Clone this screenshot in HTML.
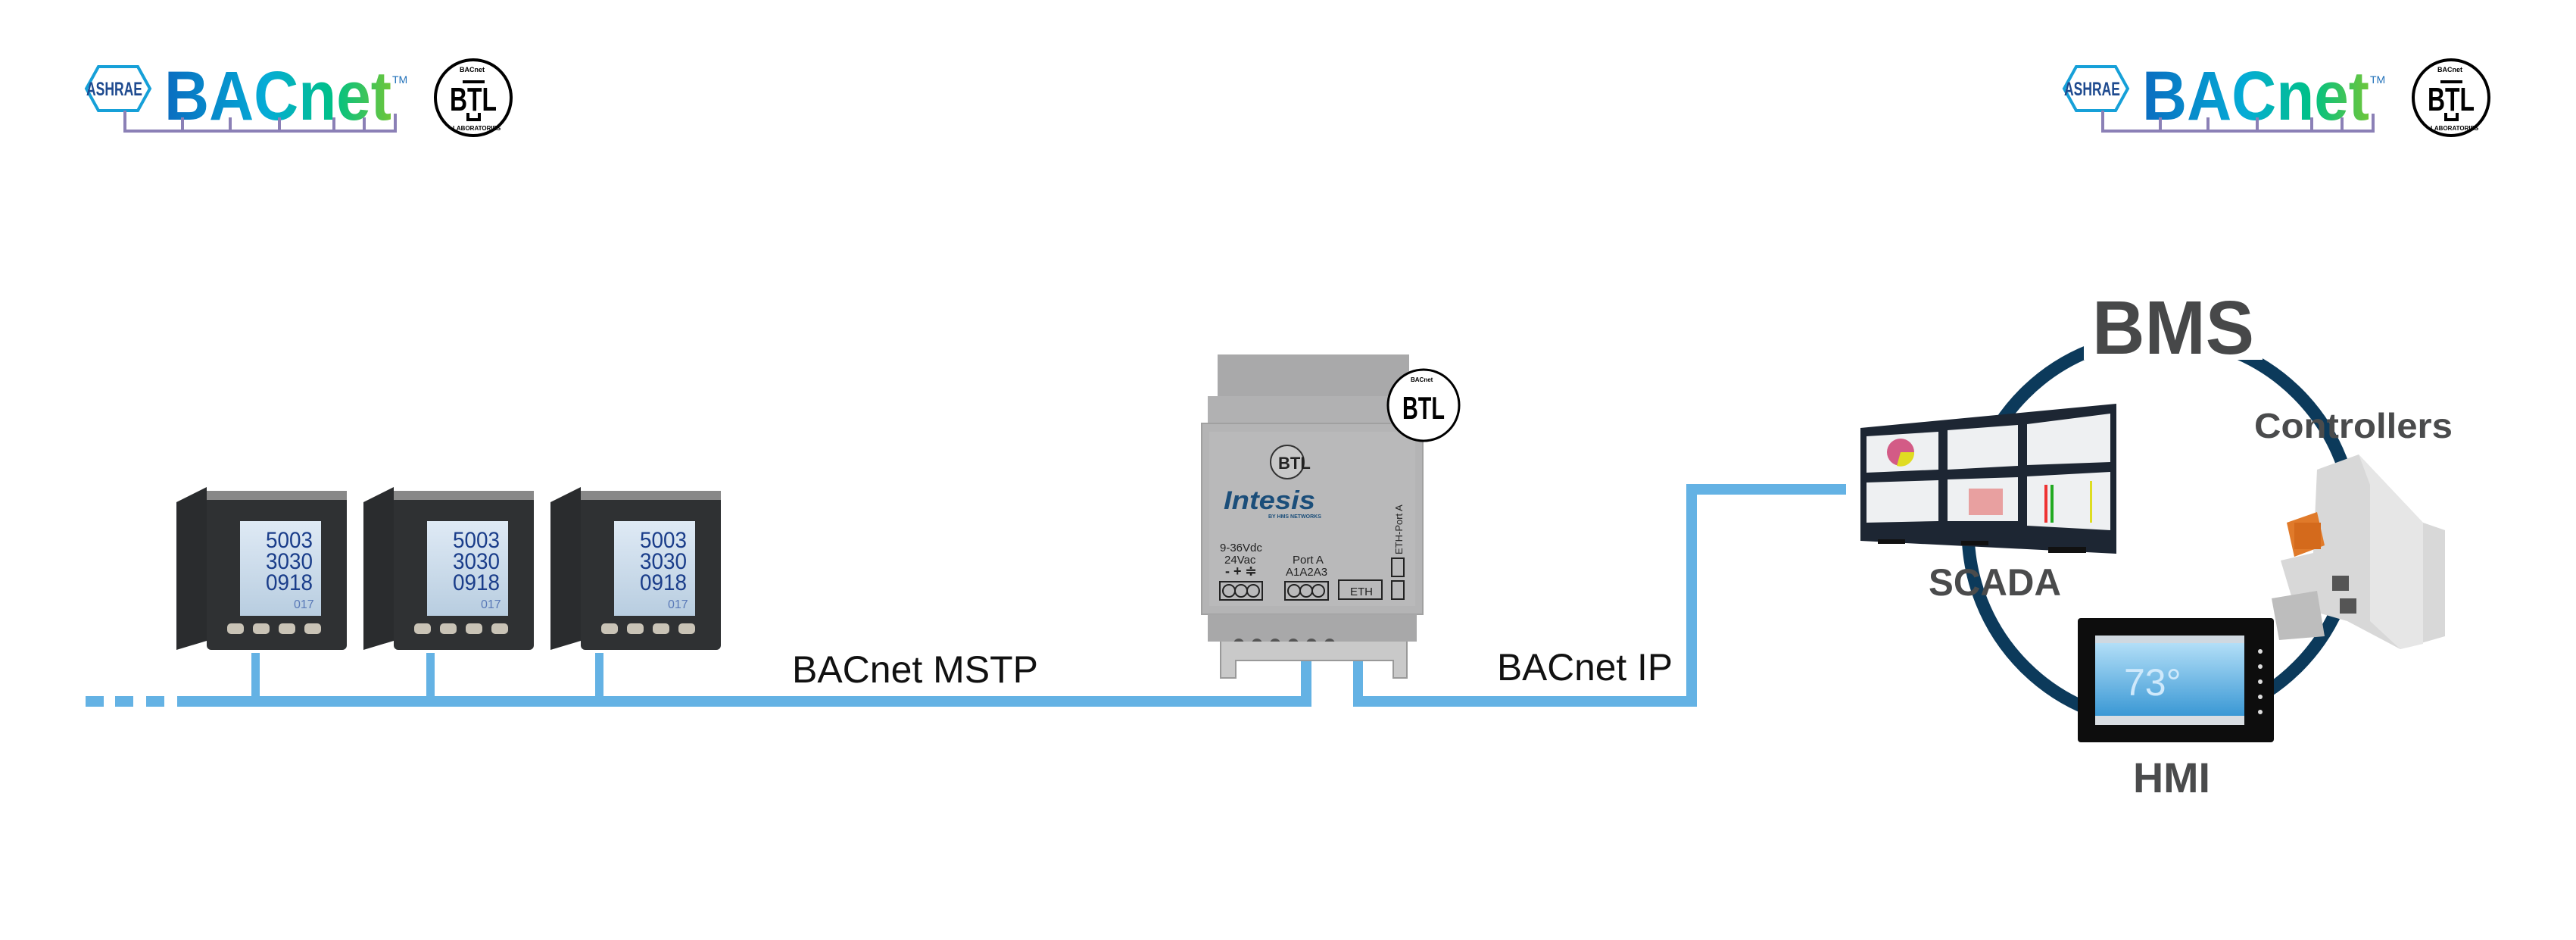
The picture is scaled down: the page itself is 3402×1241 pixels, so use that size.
<!DOCTYPE html>
<html><head><meta charset="utf-8"><style>
html,body{margin:0;padding:0;background:#fff;}
svg{display:block;}
text{font-family:"Liberation Sans",sans-serif;}
</style></head><body>
<svg width="3402" height="1241" viewBox="0 0 3402 1241" xmlns="http://www.w3.org/2000/svg">
<defs>
<linearGradient id="bac" x1="0" x2="1" y1="0" y2="0">
<stop offset="0" stop-color="#0a6cc0"/><stop offset="0.45" stop-color="#05acd6"/><stop offset="0.75" stop-color="#00c184"/><stop offset="1" stop-color="#6ec63a"/></linearGradient>
<linearGradient id="scr" x1="0" x2="0" y1="0" y2="1"><stop offset="0" stop-color="#bfe6fb"/><stop offset="1" stop-color="#2b8fd0"/></linearGradient>
<linearGradient id="lcd" x1="0" x2="0" y1="0" y2="1"><stop offset="0" stop-color="#dfeaf5"/><stop offset="1" stop-color="#b8cde0"/></linearGradient>
<g id="logo">
  <polygon points="130,88 182,88 198,117 182,146 130,146 114,117" fill="#fff" stroke="#16a0d8" stroke-width="4"/>
  <text x="114" y="126" font-size="25" font-weight="bold" fill="#1e4a8f" textLength="74" lengthAdjust="spacingAndGlyphs">ASHRAE</text>
  <text x="217" y="158" font-size="92" font-weight="bold" fill="url(#bac)" textLength="300" lengthAdjust="spacingAndGlyphs">BACnet</text>
  <text x="518" y="110" font-size="14" fill="#1e6fb8">TM</text>
  <path d="M165,146 V173 H522 V150 M241,173 V155 M304,173 V155 M369,173 V155 M441,173 V155 M481,173 V155" fill="none" stroke="#8b80b6" stroke-width="4"/>
  <circle cx="625" cy="129" r="50" fill="#fff" stroke="#000" stroke-width="4"/>
  <text x="594" y="146" font-size="44" font-weight="bold" fill="#000" textLength="62" lengthAdjust="spacingAndGlyphs">BTL</text>
  <path d="M611,108 H640 M618,149 V158 H633 V149" stroke="#000" stroke-width="4" fill="none"/>
  <text x="607" y="95" font-size="9" font-weight="bold">BACnet</text>
  <text x="598" y="172" font-size="8" font-weight="bold">LABORATORIES</text>
</g>
<g id="meter">
  <polygon points="0,20 40,0 40,203 0,215" fill="#2a2c2e"/>
  <rect x="40" y="12" width="185" height="203" rx="6" fill="#2f3133"/>
  <rect x="40" y="5" width="185" height="12" fill="#888"/>
  <rect x="84" y="45" width="107" height="125" fill="url(#lcd)"/>
  <text x="118" y="80" font-size="30" fill="#1a3d8a" textLength="62" lengthAdjust="spacingAndGlyphs">5003</text>
  <text x="118" y="108" font-size="30" fill="#1a3d8a" textLength="62" lengthAdjust="spacingAndGlyphs">3030</text>
  <text x="118" y="136" font-size="30" fill="#1a3d8a" textLength="62" lengthAdjust="spacingAndGlyphs">0918</text>
  <text x="155" y="160" font-size="16" fill="#5a7ab8">017</text>
  <rect x="67" y="180" width="22" height="14" rx="5" fill="#c9c3b6"/>
  <rect x="101" y="180" width="22" height="14" rx="5" fill="#c9c3b6"/>
  <rect x="135" y="180" width="22" height="14" rx="5" fill="#c9c3b6"/>
  <rect x="169" y="180" width="22" height="14" rx="5" fill="#c9c3b6"/>
</g>
</defs>

<!-- logos -->
<use href="#logo"/>
<use href="#logo" x="2612"/>

<!-- bus lines -->
<g fill="#64b2e4">
  <rect x="113" y="919" width="24" height="14"/>
  <rect x="152" y="919" width="24" height="14"/>
  <rect x="193" y="919" width="24" height="14"/>
  <rect x="234" y="919" width="1498" height="14"/>
  <rect x="332" y="862" width="11" height="60"/>
  <rect x="563" y="862" width="11" height="60"/>
  <rect x="786" y="862" width="11" height="60"/>
  <rect x="1718" y="870" width="14" height="63"/>
  <rect x="1787" y="870" width="13" height="63"/>
  <rect x="1787" y="919" width="454" height="14"/>
  <rect x="2227" y="639" width="14" height="294"/>
  <rect x="2227" y="639" width="211" height="14"/>
</g>

<!-- meters -->
<use href="#meter" x="233" y="643"/>
<use href="#meter" x="480" y="643"/>
<use href="#meter" x="727" y="643"/>

<text x="1046" y="901" font-size="50" fill="#111" textLength="325" lengthAdjust="spacingAndGlyphs">BACnet MSTP</text>
<text x="1977" y="898" font-size="50" fill="#111" textLength="232" lengthAdjust="spacingAndGlyphs">BACnet IP</text>

<!-- Intesis device -->
<rect x="1608" y="468" width="253" height="60" fill="#a9a9aa"/>
<rect x="1595" y="523" width="276" height="40" fill="#b1b1b2"/>
<rect x="1587" y="559" width="292" height="252" fill="#b4b4b5" stroke="#a0a0a0" stroke-width="2"/>
<rect x="1597" y="570" width="272" height="230" fill="#b9b9ba"/>
<rect x="1595" y="811" width="276" height="36" fill="#a8a8a9"/>
<rect x="1624" y="847" width="146" height="25" fill="#6cc56e"/>
<g fill="#555"><circle cx="1636" cy="850" r="7"/><circle cx="1660" cy="850" r="7"/><circle cx="1684" cy="850" r="7"/><circle cx="1708" cy="850" r="7"/><circle cx="1732" cy="850" r="7"/><circle cx="1756" cy="850" r="7"/></g>
<rect x="1770" y="847" width="76" height="25" fill="#5a5655"/>
<path d="M1612,847 V895 H1632 V872 H1840 V895 H1858 V847" fill="#c9c9c9" stroke="#999" stroke-width="2"/>
<circle cx="1700" cy="610" r="22" fill="#c8c8c8" stroke="#333" stroke-width="2"/>
<text x="1688" y="619" font-size="22" font-weight="bold" fill="#222">BTL</text>
<text x="1616" y="672" font-size="34" font-weight="bold" font-style="italic" fill="#1b4e7a" textLength="121" lengthAdjust="spacingAndGlyphs">Intesis</text>
<text x="1675" y="684" font-size="7" font-weight="bold" fill="#1b4e7a">BY HMS NETWORKS</text>
<g font-size="15" fill="#222">
<text x="1611" y="728">9-36Vdc</text><text x="1617" y="744">24Vac</text>
<text x="1618" y="760" font-size="18" font-weight="bold">- + ≑</text>
<text x="1707" y="744">Port A</text><text x="1698" y="760">A1A2A3</text>
<text x="1783" y="786">ETH</text>
<text transform="translate(1852,732) rotate(-90)" font-size="13">ETH-Port A</text>
</g>
<g fill="none" stroke="#222" stroke-width="2">
<rect x="1611" y="768" width="56" height="24"/><rect x="1697" y="768" width="57" height="24"/>
<rect x="1768" y="766" width="57" height="25"/><rect x="1838" y="737" width="16" height="24"/><rect x="1838" y="767" width="16" height="24"/>
<circle cx="1623" cy="780" r="8"/><circle cx="1639" cy="780" r="8"/><circle cx="1655" cy="780" r="8"/>
<circle cx="1709" cy="780" r="8"/><circle cx="1725" cy="780" r="8"/><circle cx="1741" cy="780" r="8"/>
</g>
<circle cx="1880" cy="535" r="47" fill="#fff" stroke="#000" stroke-width="3"/>
<text x="1852" y="553" font-size="42" font-weight="bold" fill="#000" textLength="56" lengthAdjust="spacingAndGlyphs">BTL</text>
<text x="1863" y="504" font-size="8" font-weight="bold">BACnet</text>

<!-- BMS circle -->
<circle cx="2854" cy="700" r="255" fill="none" stroke="#0c3a5b" stroke-width="17"/>
<rect x="2752" y="385" width="236" height="90" fill="#fff"/>
<text x="2763" y="467" font-size="100" font-weight="bold" fill="#474849" textLength="214" lengthAdjust="spacingAndGlyphs">BMS</text>

<!-- monitors -->
<g>
<polygon points="2457,565 2795,533 2795,731 2457,714" fill="#1d2633"/>
<g fill="#eef0f2">
<polygon points="2465,576 2560,570 2560,620 2465,624"/>
<polygon points="2572,568 2665,561 2665,615 2572,620"/>
<polygon points="2677,560 2787,546 2787,610 2677,614"/>
<polygon points="2465,637 2560,634 2560,688 2465,690"/>
<polygon points="2572,633 2665,630 2665,688 2572,688"/>
<polygon points="2677,629 2787,623 2787,700 2677,694"/>
</g>
<circle cx="2510" cy="597" r="18" fill="#d35b86"/>
<path d="M2510,597 L2528,597 A18,18 0 0,1 2505,615 Z" fill="#e0dc22"/>
<rect x="2600" y="645" width="45" height="35" fill="#e8a0a0"/>
<rect x="2700" y="640" width="4" height="50" fill="#e33"/><rect x="2708" y="640" width="4" height="50" fill="#2a2"/><rect x="2760" y="635" width="3" height="55" fill="#dd2"/>
<rect x="2480" y="712" width="36" height="6" fill="#111"/><rect x="2590" y="714" width="36" height="6" fill="#111"/><rect x="2705" y="722" width="50" height="8" fill="#111"/>
</g>
<text x="2547" y="786" font-size="50" font-weight="bold" fill="#4a4b4c" textLength="175" lengthAdjust="spacingAndGlyphs">SCADA</text>
<text x="2977" y="578" font-size="46" font-weight="bold" fill="#4a4b4c" textLength="262" lengthAdjust="spacingAndGlyphs">Controllers</text>

<!-- controller -->
<polygon points="3060,620 3115,600 3200,690 3229,700 3229,840 3170,857 3100,820 3030,800 3012,740 3055,730" fill="#d8d8d8"/>
<polygon points="3115,600 3200,690 3200,850 3170,857 3130,820 3130,640" fill="#e6e6e6"/>
<polygon points="3020,690 3060,676 3070,720 3030,735" fill="#e07a2a"/>
<rect x="3030" y="690" width="35" height="35" fill="#d46a1c"/>
<rect x="3080" y="760" width="22" height="20" fill="#555"/><rect x="3090" y="790" width="22" height="20" fill="#555"/>
<polygon points="3000,790 3060,780 3070,840 3010,845" fill="#bdbdbd"/>

<!-- HMI -->
<rect x="2744" y="816" width="259" height="164" rx="4" fill="#0d0d0d"/>
<rect x="2767" y="839" width="197" height="118" fill="url(#scr)"/>
<rect x="2767" y="839" width="197" height="10" fill="#cfd8e0"/>
<rect x="2767" y="945" width="197" height="12" fill="#d8dde2"/>
<text x="2805" y="918" font-size="50" fill="#cfe9fb">73°</text>
<g fill="#ddd"><circle cx="2985" cy="860" r="3"/><circle cx="2985" cy="880" r="3"/><circle cx="2985" cy="900" r="3"/><circle cx="2985" cy="920" r="3"/><circle cx="2985" cy="940" r="3"/></g>
<text x="2817" y="1046" font-size="56" font-weight="bold" fill="#4a4b4c" textLength="102" lengthAdjust="spacingAndGlyphs">HMI</text>
</svg>
</body></html>
